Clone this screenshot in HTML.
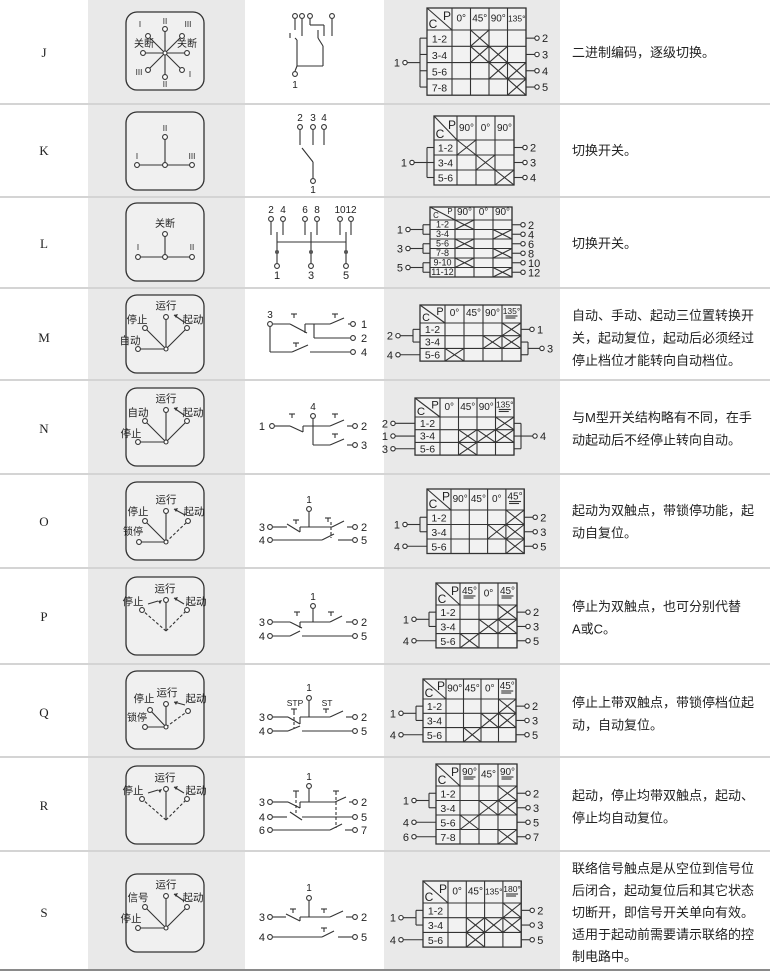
<!DOCTYPE html>
<html><head><meta charset="utf-8">
<style>
html,body{margin:0;padding:0;background:#fff;}
svg{display:block;}
text{font-family:"Liberation Sans","Noto Sans CJK SC",sans-serif;fill:#222;}
</style></head>
<body>
<svg id="s" width="770" height="973" viewBox="0 0 770 973" xmlns="http://www.w3.org/2000/svg"></svg>
<script>
var o=[];
function L(a,b,c,d,ex){o.push('<line x1="'+a+'" y1="'+b+'" x2="'+c+'" y2="'+d+'" stroke="#333" stroke-width="1.1" '+(ex||'')+'/>');}
function D(a,b,c,d){L(a,b,c,d,'stroke-dasharray="3,2"');}
function C(x,y,r){o.push('<circle cx="'+x+'" cy="'+y+'" r="'+(r||2.4)+'" fill="#fff" stroke="#333" stroke-width="1.1"/>');}
function T(x,y,s,sz,an,ex){o.push('<text x="'+x+'" y="'+y+'" font-size="'+(sz||11)+'" text-anchor="'+(an||'middle')+'" '+(ex||'')+'>'+s+'</text>');}
function R(x,y,w,h,f,ex){o.push('<rect x="'+x+'" y="'+y+'" width="'+w+'" height="'+h+'" fill="'+f+'" '+(ex||'')+'/>');}
function TM(x,y){L(x-3,y,x+3,y);L(x,y,x,y+4);}
// backgrounds
R(88,0,157,970,'#e9e9e9');R(384,0,176,970,'#e9e9e9');
[104,197,288,380,474,568,664,757,851].forEach(function(y){R(0,y-1,770,2,'#d4d4d4');});
R(0,969,770,2,'#8a8a8a');
// letters
[['J',52],['K',150],['L',243],['M',337],['N',428],['O',521],['P',616],['Q',712],['R',805],['S',912]].forEach(function(a){T(44,a[1]+5,a[0],13,'middle','style="font-family:Liberation Serif,serif"');});
// text column
function TX(y,lines,lh){lines.forEach(function(s,i){T(572,y+i*(lh||22.5),s,13,'start');});}
TX(57,['二进制编码，逐级切换。']);
TX(155,['切换开关。']);
TX(248,['切换开关。']);
TX(320,['自动、手动、起动三位置转换开','关，起动复位，起动后必须经过','停止档位才能转向自动档位。']);
TX(422,['与M型开关结构略有不同，在手','动起动后不经停止转向自动。']);
TX(515,['起动为双触点，带锁停功能，起','动自复位。']);
TX(611,['停止为双触点，也可分别代替','A或C。']);
TX(707,['停止上带双触点，带锁停档位起','动，自动复位。']);
TX(800,['起动，停止均带双触点，起动、','停止均自动复位。']);
TX(873,['联络信号触点是从空位到信号位','后闭合，起动复位后和其它状态','切断开，即信号开关单向有效。','适用于起动前需要请示联络的控','制电路中。'],22);
// icon boxes
function BOX(bt,h){o.push('<rect x="126" y="'+bt+'" width="78" height="'+(h||78)+'" rx="11" fill="#fff" fill-opacity="0.35" stroke="#333" stroke-width="1.3"/>');}
function ARW(x1,y1,x2,y2){L(x1,y1,x2,y2,'stroke="#666" stroke-width="0.8"');o.push('<polygon points="'+x2+','+y2+' '+(x2+4)+','+(y2-1)+' '+(x2+2)+','+(y2+3)+'" fill="#333"/>');}
// J
(function(){var bt=12,hx=165,hy=bt+41;BOX(bt);
var n=[[165,bt+17],[165,bt+65],[143,bt+41],[187,bt+41],[148,bt+24],[182,bt+24],[148,bt+58],[182,bt+58]];
n.forEach(function(p){L(hx,hy,p[0],p[1]);});n.forEach(function(p){C(p[0],p[1]);});C(hx,hy,2);
T(165,bt+12,'II',8);T(140,bt+15,'I',8);T(188,bt+15,'III',8);T(144,bt+35,'关断',10);T(187,bt+35,'关断',10);
T(139,bt+63,'III',8);T(165,bt+75,'II',8);T(190,bt+65,'I',8);})();
// K
(function(){var bt=112;BOX(bt);L(165,bt+26,165,bt+53);L(137,bt+53,192,bt+53);C(165,bt+25);C(137,bt+53);C(192,bt+53);C(165,bt+53);
T(165,bt+19,'II',8);T(137,bt+47,'I',8);T(192,bt+47,'III',8);})();
// L
(function(){var bt=203;BOX(bt);L(165,bt+31,165,bt+54);L(138,bt+54,192,bt+54);C(165,bt+31);C(138,bt+54);C(192,bt+54);C(165,bt+54);
T(165,bt+24,'关断',10);T(138,bt+47,'I',8);T(192,bt+47,'II',8);})();
// fan icons
function FAN(bt,hy,top,lft,rgt,far,labs,opt){BOX(bt);var hx=166;opt=opt||{};
L(hx,hy,hx,top);
if(lft){(opt.ld?D:L)(hx,hy,lft[0],lft[1]);}
if(rgt){(opt.rd?D:L)(hx,hy,rgt[0],rgt[1]);}
if(far){L(hx,hy,far[0],far[1]);C(far[0],far[1]);}
C(hx,top);if(lft)C(lft[0],lft[1]);if(rgt)C(rgt[0],rgt[1]);if(!opt.nohub)C(hx,hy,2);
labs.forEach(function(l){T(l[0],l[1],l[2],l[3]||10.5);});
ARW(rgt[0]-3,rgt[1]-6,hx+8,top-2);
if(opt.la)ARW(lft[0]+6,lft[1]-6,hx-8,top+1);}
FAN(295,349,317,[145,328],[187,328],[138,349],[[166,309,'运行'],[137,323,'停止'],[193,323,'起动'],[130,344,'自动']]);
FAN(388,442,410,[145,421],[187,421],[138,442],[[166,402,'运行'],[138,416,'自动'],[193,416,'起动'],[131,437,'停止']]);
FAN(482,542,511,[145,521],[188,521],[139,542],[[166,503,'运行'],[138,515,'停止'],[194,515,'起动'],[133,535,'锁停',10]],{rd:1});
FAN(577,631,600,[142,610],[187,610],null,[[165,592,'运行'],[133,605,'停止'],[196,605,'起动']],{ld:1,rd:1,nohub:1,la:1});
FAN(671,727,704,[150,710],[188,711],[145,727],[[167,696,'运行'],[144,702,'停止'],[196,702,'起动'],[137,721,'锁停',10]],{rd:1});
FAN(766,820,789,[142,799],[187,799],null,[[165,781,'运行'],[133,794,'停止'],[196,794,'起动']],{ld:1,rd:1,nohub:1,la:1});
FAN(874,928,896,[145,907],[187,907],[138,928],[[166,888,'运行'],[138,901,'信号'],[193,901,'起动'],[131,922,'停止']]);
// tables
function TAB(x0,y0,hh,rh,lw,cw,heads,rows,cross,left,right,fs){
fs=fs||10.5;var n=heads.length,W=lw+n*cw,H=hh+rows.length*rh;
o.push('<rect x="'+x0+'" y="'+y0+'" width="'+W+'" height="'+H+'" fill="#fff" fill-opacity="0.4" stroke="#333" stroke-width="1.3"/>');
L(x0,y0,x0+lw,y0+hh);
T(x0+lw-5,y0+hh*0.55,'P',Math.min(12,hh*0.6));T(x0+6,y0+hh-2,'C',Math.min(12,hh*0.6));
for(var i=0;i<=n;i++){L(x0+lw+i*cw,y0,x0+lw+i*cw,y0+H);}
for(var r=0;r<rows.length;r++){L(x0,y0+hh+r*rh,x0+W,y0+hh+r*rh);T(x0+lw/2,y0+hh+r*rh+rh*0.78,rows[r],Math.min(fs,rh*0.95));}
heads.forEach(function(h,i){var cx=x0+lw+i*cw+cw/2,m=h.slice(-1)=='*',s=m?h.slice(0,-1):h;
T(cx,y0+(m?hh*0.5:hh*0.62),s,s.length>3?8.5:10);
if(m){L(cx-6,y0+hh*0.5+2,cx+6,y0+hh*0.5+2);L(cx-6,y0+hh*0.5+4,cx+4,y0+hh*0.5+4);}});
cross.forEach(function(c){var x=x0+lw+c[1]*cw,y=y0+hh+c[0]*rh;L(x,y,x+cw,y+rh);L(x+cw,y,x,y+rh);});
function rc(r){return y0+hh+r*rh+rh/2;}
left.forEach(function(g){var ys=g[1].map(rc),m=(ys[0]+ys[ys.length-1])/2;
if(ys.length>1){var bx=x0-7;L(bx,ys[0],bx,ys[ys.length-1]);ys.forEach(function(y){L(bx,y,x0,y);});L(x0-20,m,bx,m);}else L(x0-20,m,x0,m);
C(x0-22,m,2.2);T(x0-27,m+4,g[0],11,'end');});
right.forEach(function(g){var ys=g[1].map(rc),m=(ys[0]+ys[ys.length-1])/2,xr=x0+W;
if(ys.length>1){var bx=xr+7;L(bx,ys[0],bx,ys[ys.length-1]);ys.forEach(function(y){L(xr,y,bx,y);});L(bx,m,bx+12,m);C(bx+14,m,2.2);T(bx+19,m+4,g[0],11,'start');}
else{L(xr,m,xr+9,m);C(xr+11,m,2.2);T(xr+16,m+4,g[0],11,'start');}});}
function ea(a){return a.map(function(x,i){return [x,[i]];});}
TAB(427,8,22,16.3,25,18.5,['0°','45°','90°','135°'],['1-2','3-4','5-6','7-8'],[[0,1],[1,1],[1,2],[2,2],[2,3],[3,3]],[['1',[0,1,2,3]]],ea(['2','3','4','5']));
TAB(434,116,24,15,23,19,['90°','0°','90°'],['1-2','3-4','5-6'],[[0,0],[1,1],[2,2]],[['1',[0,1,2]]],ea(['2','3','4']));
TAB(430,207,13,9.5,25,19,['90°','0°','90°'],['1-2','3-4','5-6','7-8','9-10','11-12'],[[0,0],[1,2],[2,0],[3,2],[4,0],[5,2]],[['1',[0,1]],['3',[2,3]],['5',[4,5]]],ea(['2','4','6','8','10','12']),9.5);
TAB(420,305,18,12.7,25,19,['0°','45°','90°','135°*'],['1-2','3-4','5-6'],[[0,3],[1,2],[1,3],[2,0]],[['2',[0,1]],['4',[2]]],[['1',[0]],['3',[1,2]]]);
TAB(415,398,19,12.7,25,18.5,['0°','45°','90°','135°*'],['1-2','3-4','5-6'],[[0,3],[1,1],[1,2],[1,3],[2,1]],[['2',[0]],['1',[1]],['3',[2]]],[['4',[0,1,2]]]);
TAB(427,489,21,14.5,24,18.3,['90°','45°','0°','45°*'],['1-2','3-4','5-6'],[[0,3],[1,2],[1,3],[2,3]],[['1',[0,1]],['4',[2]]],ea(['2','3','5']));
TAB(436,583,22,14.3,24,19,['45°*','0°','45°*'],['1-2','3-4','5-6'],[[0,2],[1,1],[1,2],[2,0]],[['1',[0,1]],['4',[2]]],ea(['2','3','5']));
TAB(423,679,20,14.3,23,17.5,['90°','45°','0°','45°*'],['1-2','3-4','5-6'],[[0,3],[1,2],[1,3],[2,1]],[['1',[0,1]],['4',[2]]],ea(['2','3','5']));
TAB(436,764,22,14.5,24,19,['90°*','45°','90°*'],['1-2','3-4','5-6','7-8'],[[0,2],[1,1],[1,2],[2,0],[3,2]],[['1',[0,1]],['4',[2]],['6',[3]]],ea(['2','3','5','7']));
TAB(423,881,22,14.7,25,18.3,['0°','45°','135°','180°*'],['1-2','3-4','5-6'],[[0,3],[1,1],[1,2],[1,3],[2,1]],[['1',[0,1]],['4',[2]]],ea(['2','3','5']));
// schematics
// J
[295,302,310,332].forEach(function(x){C(x,16);});
L(295,19,295,30);L(302,19,302,36);L(310,19,310,25);L(310,25,324,25);L(324,25,324,36);L(318,30,318,38);L(332,19,332,36);
L(290,33,290,38);L(295,38,297,40);L(297,40,297,66);L(297,66,323,66);L(323,66,323,46);L(323,46,318,38);
C(295,74);L(297,66,295,71);T(295,88,'1',10);
// K
T(300,121,'2',10);T(313,121,'3',10);T(324,121,'4',10);[300,313,324].forEach(function(x){C(x,127);L(x,130,x,145);});
L(302,148,313,162);L(313,162,313,178);C(313,181);T(313,193,'1',10);
// L
[[271,'2'],[283,'4'],[305,'6'],[317,'8'],[340,'10'],[351,'12']].forEach(function(a){T(a[0],213,a[1],10);C(a[0],219);L(a[0],222,a[0],235);});
L(277,232,277,242);L(311,232,311,242);L(346,232,346,242);L(277,242,346,242);
[[277,'1'],[311,'3'],[346,'5']].forEach(function(a){L(a[0],242,a[0],263);o.push('<circle cx="'+a[0]+'" cy="252" r="2" fill="#555"/>');C(a[0],266);T(a[0],279,a[1],11);});
// M
T(270,318,'3',10);C(270,324);L(273,324,290,324);L(290,324,307,333);L(305,333,305,324);L(305,324,330,324);L(314,324,314,338);L(314,338,350,338);C(353,338);T(361,342,'2',11,'start');
L(330,324,344,318);L(348,324,350,324);C(353,324);T(361,328,'1',11,'start');TM(335,314);TM(294,314);
L(270,327,270,352);L(270,352,292,352);L(292,352,308,345);L(310,352,350,352);C(353,352);T(361,356,'4',11,'start');TM(296,343);
// N
T(265,430,'1',11,'end');C(272,426);L(275,426,290,426);L(290,426,303,432);L(303,432,303,426);L(303,426,330,426);L(330,426,344,420);L(347,426,352,426);C(355,426);T(361,430,'2',11,'start');
T(313,410,'4',10);C(313,416);L(313,419,313,445);L(313,445,330,445);L(330,445,344,439);L(347,445,352,445);C(355,445);T(361,449,'3',11,'start');TM(292,414);TM(335,414);TM(335,434);
// generic two/three-line
function SCH(y1,ys,rows){}
// O
T(309,503,'1',10);C(309,509);L(309,512,309,527);
T(265,531,'3',11,'end');C(270,527);L(273,527,287,527);L(287,524,300,532);L(300,532,300,527);L(300,527,332,527);L(332,527,344,521);L(347,527,352,527);C(355,527);T(361,531,'2',11,'start');
T(265,544,'4',11,'end');C(270,540);L(273,540,322,540);L(322,540,334,534);L(338,540,352,540);C(355,540);T(361,544,'5',11,'start');
D(331,522,331,538);TM(296,520);TM(328,518);
// P
T(313,600,'1',10);C(313,606);L(313,609,313,622);
T(265,626,'3',11,'end');C(270,622);L(273,622,290,622);L(290,622,302,628);L(300,628,300,622);L(300,622,330,622);L(330,622,342,616);L(346,622,352,622);C(355,622);T(361,626,'2',11,'start');
T(265,640,'4',11,'end');C(270,636);L(273,636,290,636);L(290,636,300,631);L(302,636,352,636);C(355,636);T(361,640,'5',11,'start');
TM(297,612);TM(331,612);
// Q
T(309,691,'1',10);C(309,698);L(309,701,309,717);T(295,706,'STP',8.5);T(327,706,'ST',8.5);
T(265,721,'3',11,'end');C(270,717);L(273,717,288,717);L(288,717,300,724);L(300,724,300,717);L(300,717,330,717);L(330,717,343,711);L(346,717,352,717);C(355,717);T(361,721,'2',11,'start');
T(265,735,'4',11,'end');C(270,731);L(273,731,288,731);L(288,731,300,726);L(302,731,352,731);C(355,731);T(361,735,'5',11,'start');
TM(294,709);TM(326,709);D(294,712,294,728);
// R
T(309,780,'1',10);C(309,786);L(309,789,309,802);
T(265,806,'3',11,'end');C(270,802);L(273,802,288,802);L(288,802,300,808);L(300,808,300,802);L(300,802,335,802);L(335,802,346,797);L(349,802,352,802);C(355,802);T(361,806,'2',11,'start');
T(265,821,'4',11,'end');C(270,817);L(273,817,287,817);L(290,812,302,820);L(302,817,352,817);C(355,817);T(361,821,'5',11,'start');
T(265,834,'6',11,'end');C(270,830);L(273,830,330,830);L(330,830,342,824);L(345,830,352,830);C(355,830);T(361,834,'7',11,'start');
D(296,795,296,815);D(336,797,336,828);TM(296,791);TM(336,791);
// S
T(309,891,'1',10);C(309,898);L(309,901,309,917);
T(265,921,'3',11,'end');C(270,917);L(273,917,286,917);L(286,914,300,921);L(300,921,300,917);L(300,917,330,917);L(330,917,343,911);L(346,917,352,917);C(355,917);T(361,921,'2',11,'start');
T(265,941,'4',11,'end');C(270,937);L(273,937,322,937);L(322,937,334,931);L(338,937,352,937);C(355,937);T(361,941,'5',11,'start');
TM(293,909);TM(324,909);TM(324,928);
document.getElementById('s').innerHTML=o.join('');
</script>
</body></html>
